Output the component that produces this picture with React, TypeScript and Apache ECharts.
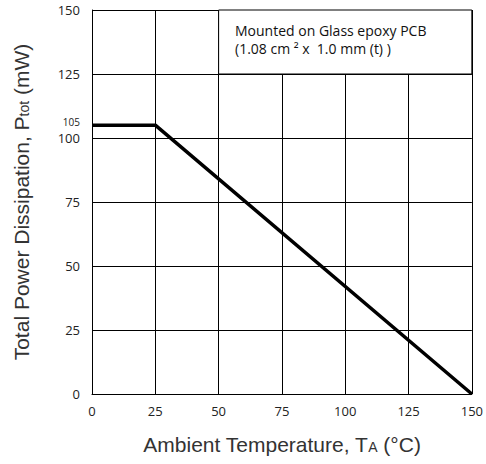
import React, { useEffect, useRef } from "react";
import * as echarts from "echarts";

const temps = [0, 25, 150];
const power = [105, 105, 0];
const xTicks = [0, 25, 50, 75, 100, 125, 150];
const yTicks = [0, 25, 50, 75, 100, 125, 150];
const extraYTick = [105];
const noteLines = ["Mounted on Glass epoxy PCB", "(1.08 cm ² x  1.0 mm (t) )"];
const noteBox = [
  [50, 125],
  [150, 150],
];

export default function App() {
  const ref = useRef<HTMLDivElement>(null);
  useEffect(() => {
    if (!ref.current) return;
    const chart = echarts.init(ref.current, null, { renderer: "svg" });
    const titleRich = {
      a: { fontFamily: "Liberation Sans", fontSize: 21, color: "#333" },
      s: { fontFamily: "Liberation Sans", fontSize: 14, color: "#333", padding: [4, 0, 0, 0] },
    };
    chart.setOption({
      animation: false,
      backgroundColor: "#fff",
      grid: { left: 92, top: 10, right: 11, bottom: 70 },
      xAxis: {
        type: "value",
        min: 0,
        max: 150,
        interval: 25,
        name: "{a|Ambient Temperature, T}{s|A}{a| (°C)}",
        nameLocation: "middle",
        nameGap: 40,
        nameTextStyle: { rich: titleRich },
        axisLine: { show: true, lineStyle: { color: "#000", width: 1 } },
        axisTick: { show: false },
        axisLabel: {
          customValues: xTicks,
          margin: 10,
          fontFamily: "Open Sans",
          fontSize: 13,
          color: "#222",
        },
        splitLine: { show: true, lineStyle: { color: "#000", width: 1 } },
      },
      yAxis: [
        {
          type: "value",
          min: 0,
          max: 150,
          interval: 25,
          name: "{a|Total Power Dissipation, P}{s|tot}{a| (mW)}",
          nameLocation: "middle",
          nameGap: 60,
          nameTextStyle: { rich: titleRich },
          axisLine: { show: true, lineStyle: { color: "#000", width: 1 } },
          axisTick: { show: false },
          axisLabel: {
            customValues: yTicks,
            margin: 12,
            lineHeight: 14,
            fontFamily: "Open Sans",
            fontSize: 13,
            color: "#222",
          },
          splitLine: { show: true, lineStyle: { color: "#000", width: 1 } },
        },
        {
          type: "value",
          position: "left",
          min: 0,
          max: 150,
          axisLine: { show: false },
          axisTick: { show: false },
          splitLine: { show: false },
          axisLabel: {
            customValues: extraYTick,
            margin: 12,
            verticalAlign: "bottom",
            lineHeight: 10,
            padding: [0, 0, -2, 0],
            fontFamily: "Open Sans",
            fontSize: 10,
            color: "#222",
          },
        },
      ],
      graphic: [
        {
          type: "text",
          left: 235,
          top: 21,
          z: 100,
          style: {
            text: noteLines.join("\n"),
            fontFamily: "Open Sans",
            fontSize: 14,
            lineHeight: 18,
            fill: "#111",
          },
        },
      ],
      series: [
        {
          type: "line",
          data: temps.map((t, i) => [t, power[i]]),
          showSymbol: false,
          lineStyle: { color: "#000", width: 3.5 },
          z: 5,
          markArea: {
            silent: true,
            itemStyle: { color: "#fff", borderColor: "#000", borderWidth: 1 },
            data: [[{ coord: noteBox[0] }, { coord: noteBox[1] }]],
          },
        },
      ],
    });
    return () => chart.dispose();
  }, []);
  return (
    <div
      ref={ref}
      style={{ position: "fixed", left: 0, top: 0, width: 486, height: 464 }}
    />
  );
}
